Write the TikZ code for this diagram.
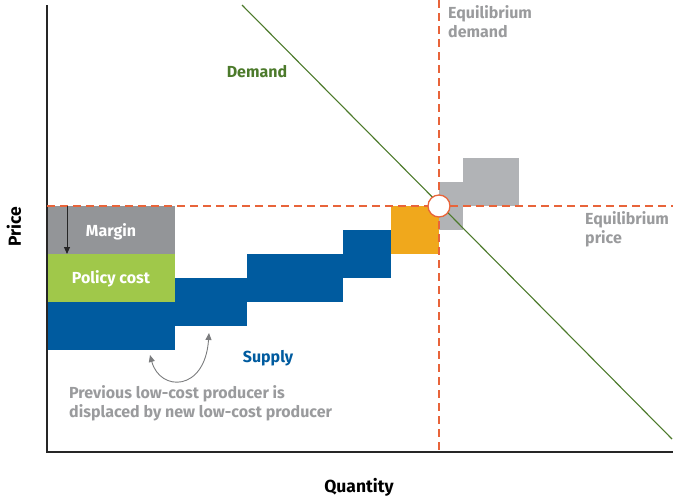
\documentclass[tikz,border=0pt]{standalone}
\usepackage{fontspec}
\setmainfont{Fira Sans}
\usetikzlibrary{arrows.meta}
\definecolor{supblue}{HTML}{005B9F}
\definecolor{polgreen}{HTML}{A0C84A}
\definecolor{margray}{HTML}{939598}
\definecolor{ltgray}{HTML}{B1B3B6}
\definecolor{eqorange}{HTML}{F0A81C}
\definecolor{dashred}{HTML}{E8643A}
\definecolor{demgreen}{HTML}{4C7A2B}
\definecolor{txtgray}{HTML}{9A9B9D}
\tikzset{
  lbl/.style={font=\bfseries\fontsize{16}{19}\selectfont, inner sep=0pt},
  axlbl/.style={font=\bfseries\fontsize{17.5}{20}\selectfont, inner sep=0pt},
  graylbl/.style={lbl, text=txtgray, align=left},
  eqline/.style={dashred, line width=1.2pt, dash pattern=on 8pt off 5pt},
  axis/.style={black!85, line width=1.1pt},
}
\begin{document}
\begin{tikzpicture}[x=1pt,y=-1pt]
\useasboundingbox (0,0) rectangle (673,499);
% blocks
\fill[margray] (47,206) rectangle (175,254);
\fill[polgreen] (47,254) rectangle (175,302);
\fill[supblue] (47,302) rectangle (175,350);
\fill[supblue] (175,278) rectangle (247,326);
\fill[supblue] (247,254) rectangle (343,302);
\fill[supblue] (343,230) rectangle (391,278);
\fill[eqorange] (391,206) rectangle (439,254);
\fill[ltgray] (439,182) rectangle (463,230);
\fill[ltgray] (463,158) rectangle (519,206);
% axes
\coordinate (ytop) at (47,5);
\coordinate (orig) at (47,452);
\coordinate (xend) at (673,452);
\draw[axis] (ytop) -- (orig) -- (xend);
% equilibrium lines
\coordinate (eq) at (439,206);
\coordinate (ph0) at (47,206);
\coordinate (ph1) at (673,206);
\coordinate (pv0) at (439,0);
\coordinate (pv1) at (439,452);
\draw[eqline] (ph0) -- (ph1);
\draw[eqline] (pv0) -- (pv1);
% demand
\coordinate (d0) at (242,5);
\coordinate (d1) at (672,439);
\draw[demgreen, line width=1.1pt] (d0) -- (d1);
\node[circle, draw=dashred, fill=white, line width=1.3pt, minimum size=22pt, inner sep=0pt] (eqpt) at (eq) {};
% margin arrow
\coordinate (ma0) at (67,206);
\coordinate (ma1) at (67,254);
\draw[black!85, line width=1pt, -{Triangle[length=7pt,width=6pt]}] (ma0) -- (ma1);
% curved arrow
\coordinate (ca0) at (150,355);
\coordinate (ca1) at (209,333);
\draw[txtgray!80!black, line width=0.9pt, {Triangle[length=7pt,width=6pt]}-{Triangle[length=7pt,width=6pt]}] (ca0) .. controls (160,392) and (205,392) .. (ca1);
% labels
\node[lbl, text=white] (margin) at (111,232) {Margin};
\node[lbl, text=white] (policy) at (111,279) {Policy cost};
\node[lbl, text=demgreen] (demand) at (257,72) {Demand};
\node[lbl, text=supblue] (supply) at (268,358) {Supply};
\node[graylbl, anchor=north west] (eqd) at (448,5) {Equilibrium\\demand};
\node[graylbl, anchor=north west] (eqp) at (585,211) {Equilibrium\\price};
\node[graylbl, anchor=north west] (prev) at (69,385) {Previous low-cost producer is\\displaced by new low-cost producer};
\node[axlbl, rotate=90] (price) at (14,227) {Price};
\node[axlbl] (qty) at (359,487) {Quantity};
\end{tikzpicture}
\end{document}
